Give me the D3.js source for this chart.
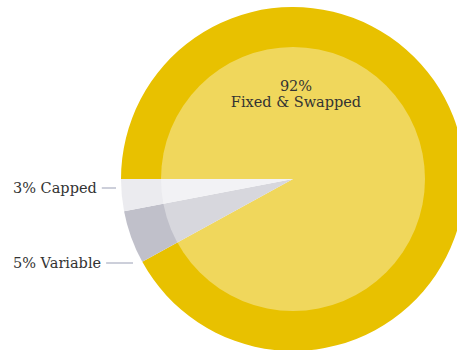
<!DOCTYPE html>
<html>
<head>
<meta charset="utf-8">
<script src="https://cdn.jsdelivr.net/npm/d3@7"></script>
<style>
    body { margin: 0; background: #fff; }
    .pie-label { font-family: "DejaVu Serif", serif; font-size: 14.5px; fill: #333; }
</style>
</head>
<body>
<div id="chart"></div>
<script>
// slices in drawing order, clockwise from 9 o'clock
const categories = ["Fixed & Swapped", "Variable", "Capped"];
const values = [92, 5, 3];
const sliceColors = ["#E8C100", "#C0C0CA", "#EBEBEF"];

let width = 457, height = 350;
let cx = 293, cy = 179;
let outerR = 172, innerR = 132;

let svg = d3.select("#chart").append("svg")
    .attr("width", width)
    .attr("height", height);

let pie = d3.pie()
    .sort(null)
    .startAngle(-Math.PI / 2)
    .endAngle(3 * Math.PI / 2)
    .value(d => d);

let arcs = pie(values);

let arc = d3.arc()
    .innerRadius(0)
    .outerRadius(outerR);

let g = svg.append("g")
    .attr("transform", `translate(${cx},${cy})`);

g.selectAll("path.slice")
    .data(arcs)
    .enter()
    .append("path")
    .attr("class", "slice")
    .attr("d", arc)
    .attr("fill", (d, i) => sliceColors[i]);

// lighter inner disc
g.append("circle")
    .attr("r", innerR)
    .attr("fill", "#fff")
    .attr("fill-opacity", 0.36);

// centre label for the big slice
let big = g.append("text")
    .attr("class", "pie-label")
    .attr("text-anchor", "middle");
big.append("tspan").attr("x", 3).attr("y", -88).text(values[0] + "%");
big.append("tspan").attr("x", 3).attr("y", -72).text(categories[0]);

// side labels for the small slices
let sideLabels = [
    { i: 2, y: 188, x2: 116 },
    { i: 1, y: 263, x2: 133 }
];

sideLabels.forEach(l => {
    let t = svg.append("text")
        .attr("class", "pie-label")
        .attr("x", 13)
        .attr("y", l.y)
        .attr("dy", "0.35em")
        .text(values[l.i] + "% " + categories[l.i]);
    let w = t.node().getComputedTextLength();
    svg.append("line")
        .attr("x1", 13 + w + 5)
        .attr("x2", l.x2)
        .attr("y1", l.y)
        .attr("y2", l.y)
        .attr("stroke", "#9a9fb5")
        .attr("stroke-width", 1);
});
</script>
</body>
</html>
